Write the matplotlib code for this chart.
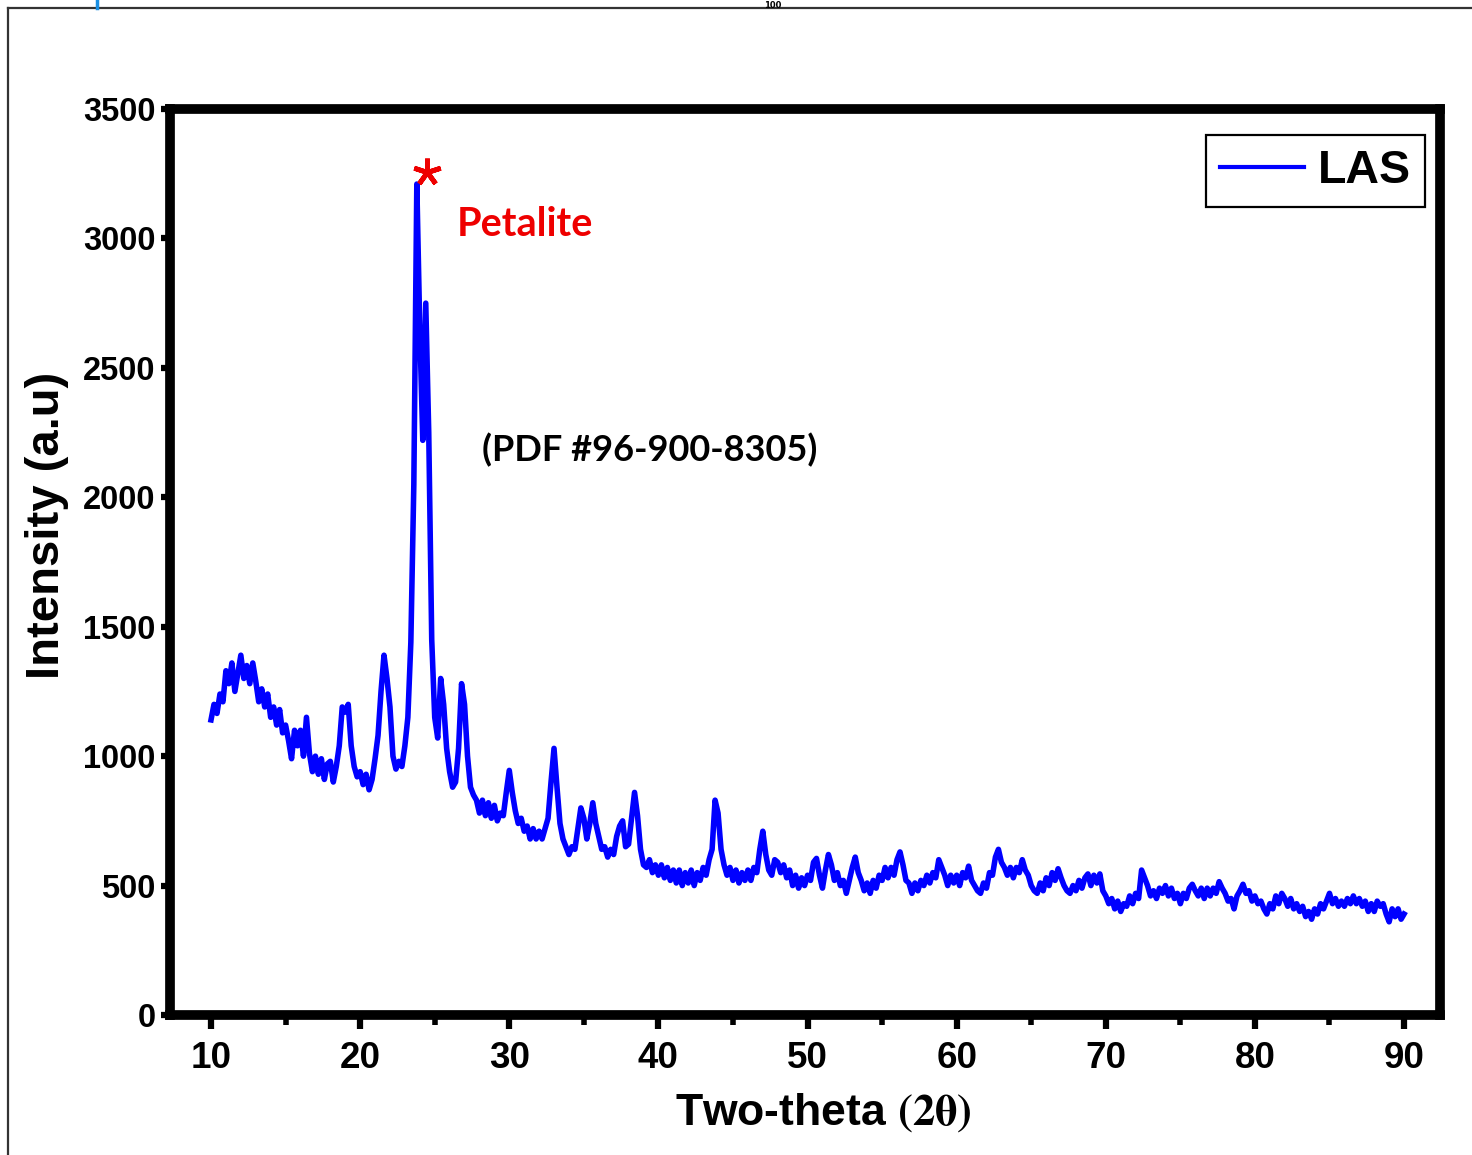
import numpy as np
import matplotlib
matplotlib.use("Agg")
import matplotlib.pyplot as plt
from matplotlib.lines import Line2D

# XRD scan of the LAS glass-ceramic, 10-90 deg 2-theta, 0.2 deg step
THETA_START, THETA_END, N_POINTS = 10.0, 90.0, 401

intensity_10_30 = [
    1140, 1200, 1165, 1240, 1210, 1330, 1280, 1360, 1250, 1320,   # 10-12
    1390, 1300, 1350, 1280, 1360, 1290, 1210, 1260, 1190, 1240,   # 12-14
    1150, 1190, 1120, 1180, 1090, 1120, 1060, 990, 1100, 1040,    # 14-16
    1100, 1000, 1150, 1010, 940, 1000, 930, 990, 910, 970,        # 16-18
    980, 900, 960, 1040, 1190, 1170, 1200, 1040, 960, 920,        # 18-20
    940, 890, 930, 870, 910, 990, 1080, 1250, 1390, 1300,         # 20-22
    1190, 1000, 950, 980, 960, 1040, 1150, 1440, 2050, 3210,      # 22-24
    2650, 2220, 2750, 2250, 1450, 1150, 1070, 1300, 1200, 1030,   # 24-26
    940, 880, 900, 1030, 1280, 1200, 1000, 880, 850, 830,         # 26-28
    780, 830, 770, 820, 760, 810, 750, 780, 770, 860,             # 28-30
]
intensity_30_50 = [
    945, 860, 790, 740, 760, 710, 730, 680, 720, 680,
    710, 680, 720, 760, 900, 1030, 880, 740, 680, 650,
    620, 650, 640, 720, 800, 760, 680, 740, 820, 740,
    690, 640, 650, 610, 640, 620, 690, 730, 750, 650,
    660, 760, 860, 770, 640, 580, 570, 600, 550, 580,
    540, 580, 530, 570, 520, 560, 510, 560, 500, 550,
    510, 560, 500, 550, 520, 570, 540, 600, 640, 830,
    780, 640, 580, 540, 570, 520, 560, 510, 550, 520,
    560, 520, 570, 550, 640, 710, 620, 560, 540, 600,
    590, 550, 580, 530, 560, 500, 540, 490, 530, 500,
]
intensity_50_70 = [
    540, 520, 590, 605, 540, 490, 560, 620, 580, 520,
    550, 500, 520, 470, 520, 570, 610, 550, 520, 480,
    510, 470, 520, 490, 540, 520, 570, 530, 570, 540,
    600, 630, 580, 520, 510, 470, 510, 480, 520, 500,
    540, 510, 550, 530, 600, 570, 540, 500, 540, 510,
    540, 500, 550, 530, 575, 520, 500, 480, 470, 510,
    490, 550, 540, 610, 640, 590, 570, 540, 570, 530,
    570, 550, 600, 560, 540, 500, 480, 470, 510, 480,
    530, 500, 550, 520, 565, 530, 500, 480, 470, 500,
    480, 520, 490, 530, 545, 500, 540, 510, 545, 480,
]
intensity_70_90 = [
    460, 430, 450, 410, 440, 400, 430, 420, 460, 430,
    470, 450, 560, 530, 500, 460, 480, 450, 490, 470,
    500, 460, 490, 450, 470, 430, 470, 450, 490, 505,
    480, 460, 490, 450, 490, 460, 490, 470, 515, 490,
    470, 440, 450, 410, 460, 480, 505, 470, 480, 440,
    460, 430, 440, 410, 390, 430, 410, 460, 430, 470,
    450, 420, 450, 410, 430, 400, 420, 380, 400, 370,
    410, 390, 430, 410, 440, 470, 430, 450, 420, 440,
    420, 450, 430, 460, 430, 450, 420, 440, 400, 430,
    400, 440, 420, 430, 390, 360, 410, 380, 410, 370,
    390,
]

x_ticks = [10, 20, 30, 40, 50, 60, 70, 80, 90]
x_minor = [15, 25, 35, 45, 55, 65, 75, 85]
y_ticks = [0, 500, 1000, 1500, 2000, 2500, 3000, 3500]

two_theta = np.linspace(THETA_START, THETA_END, N_POINTS)
intensity = np.array(intensity_10_30 + intensity_30_50 + intensity_50_70 + intensity_70_90)

SANS = ["Liberation Sans", "DejaVu Sans"]
plt.rcParams["mathtext.fontset"] = "stix"

W, H = 1472, 1155
fig = plt.figure(figsize=(W / 100, H / 100), dpi=100)
ax = fig.add_axes([170 / W, 1 - 1015 / H, (1440 - 170) / W, (1015 - 109) / H])

ax.plot(two_theta, intensity, color="#0000ff", linewidth=4.0, label="LAS")

ax.set_xlim(7.25, 92.41)
ax.set_ylim(0, 3500)
ax.set_xticks(x_ticks)
ax.set_xticks(x_minor, minor=True)
ax.set_yticks(y_ticks)
ax.tick_params(axis="x", which="major", direction="out", length=10, width=4.5, pad=9)
ax.tick_params(axis="x", which="minor", direction="out", length=7, width=4)
ax.tick_params(axis="y", which="major", direction="out", length=6.5, width=4.5, pad=4)
ax.tick_params(top=False, right=False)
for lab in ax.get_xticklabels():
    lab.set_fontfamily(SANS)
    lab.set_fontweight("bold")
    lab.set_fontsize(26.5)
for lab in ax.get_yticklabels():
    lab.set_fontfamily(SANS)
    lab.set_fontweight("bold")
    lab.set_fontsize(23.5)
for sp in ax.spines.values():
    sp.set_linewidth(7)

# axis titles
fig.text(47 / W, 1 - 525 / H, "Intensity (a.u)", rotation=90, ha="center", va="center",
         fontsize=34, fontweight="bold", family=SANS)
fig.text(823 / W, 1 - 1113 / H, r"Two-theta $\mathbf{(2\theta)}$", ha="center", va="center",
         fontsize=32, fontweight="bold", family=SANS)

# phase annotations
ax.plot([24.48], [3256], marker=(5, 2, 0), color="#ee0000", markersize=20, mew=3.5)
ax.text(26.49, 3055, "Petalite", color="#ee0000", fontsize=28.5, fontweight="bold",
        family=["Lato", "DejaVu Sans"], ha="left", va="center")
ax.text(28.16, 2182, "(PDF #96-900-8305)", color="black", fontsize=26, fontweight="bold",
        family=["Lato", "DejaVu Sans"], ha="left", va="center")

leg = ax.legend(loc="upper right", bbox_to_anchor=(0.988, 0.971), borderaxespad=0,
                fancybox=False, framealpha=1, edgecolor="black", handlelength=1.8,
                handletextpad=0.3, borderpad=0.3,
                prop={"family": SANS, "weight": "bold", "size": 33.5})
leg.get_frame().set_linewidth(1.6)
leg.get_lines()[0].set_linewidth(3)

# page frame around the figure
fig.add_artist(Line2D([8 / W, 1], [1 - 8 / H, 1 - 8 / H], color="#333333", lw=1.6))
fig.add_artist(Line2D([8 / W, 8 / W], [0, 1 - 8 / H], color="#333333", lw=1.6))
fig.add_artist(Line2D([97 / W, 97 / W], [1 - 8 / H, 1], color="#1a8fe3", lw=2.5))
fig.text(773 / W, 1 - 5 / H, "100", fontsize=6, fontweight="bold", ha="center", va="center")

fig.savefig("out.png", dpi=100)
